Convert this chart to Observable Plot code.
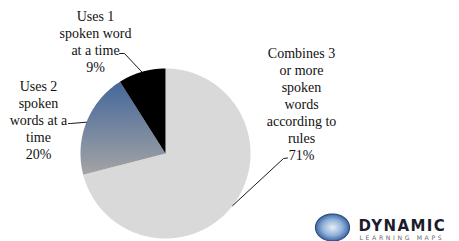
<!DOCTYPE html>
<html><head><meta charset="utf-8">
<script src="https://cdn.jsdelivr.net/npm/d3@7"></script>
<script src="https://cdn.jsdelivr.net/npm/@observablehq/plot@0.6"></script>
<style>html,body{margin:0;padding:0;background:#fff;overflow:hidden}</style>
</head><body><div id="chart"></div>
<script>
// ---- data ----
const categories = ["Combines 3 or more spoken words according to rules", "Uses 2 spoken words at a time", "Uses 1 spoken word at a time"];
const labelLines = [
  ["Combines 3", "or more", "spoken", "words", "according to", "rules"],
  ["Uses 2", "spoken", "words at a", "time"],
  ["Uses 1", "spoken word", "at a time"]
];
const percents = [71, 20, 9];
const sliceColors = ["#d9d9d9", "url(#blueGrad)", "#000000"];

// ---- layout ----
const W = 459, H = 241;
const cx = 165, cy = 153, R = 85;
const labelPos = [[301, 103], [38, 119], [95, 40.5]];
const labelElbows = [[[283, 158], [287, 157.5]], [[70, 123], [68, 123]], [[124, 53], [119, 53]]];

const arcs = d3.pie().sort(null).value(d => d)(percents);
const pt = (a, r) => ({x: cx + r * Math.sin(a), y: cy - r * Math.cos(a)});

const slices = arcs.map((a, i) => {
  const pts = [{x: cx, y: cy}];
  const n = Math.max(2, Math.ceil((a.endAngle - a.startAngle) / 0.01));
  for (let k = 0; k <= n; k++) pts.push(pt(a.startAngle + (a.endAngle - a.startAngle) * k / n, R));
  pts.push({x: cx, y: cy});
  return pts;
});

const leaders = arcs.flatMap((a, i) => {
  const m = (a.startAngle + a.endAngle) / 2;
  const e = pt(m, R);
  return [{i, x: e.x, y: e.y}, ...labelElbows[i].map(([x, y]) => ({i, x, y}))];
});

const labels = categories.map((c, i) => ({
  x: labelPos[i][0], y: labelPos[i][1],
  text: labelLines[i].join("\n") + "\n" + percents[i] + "%"
}));

// logo globe ellipse
const globe = d3.range(0, 2 * Math.PI + 0.05, 0.05).map(t => ({x: 332 + 17 * Math.cos(t), y: 227 + 13.5 * Math.sin(t)}));

const chart = Plot.plot({
  width: W, height: H,
  margin: 0,
  x: {domain: [0, W], range: [0, W], axis: null},
  y: {domain: [0, H], range: [0, H], axis: null},
  marks: [
    ...slices.map((s, i) => Plot.line(s, {x: "x", y: "y", fill: sliceColors[i], stroke: "none"})),
    Plot.line(leaders, {x: "x", y: "y", z: "i", stroke: "#000", strokeWidth: 0.9}),
    Plot.text(labels, {x: "x", y: "y", text: "text", fontFamily: "Liberation Serif", fontSize: 14, lineHeight: 1.21, textAnchor: "middle", lineAnchor: "middle", fill: "#111"}),
    Plot.line(globe, {x: "x", y: "y", fill: "url(#globeGrad)", stroke: "#2f4e82", strokeWidth: 1.2}),
    Plot.text([{x: 358, y: 225.5, t: "DYNAMIC"}], {x: "x", y: "y", text: "t", textAnchor: "start", fontFamily: "DejaVu Sans", fontWeight: "bold", fontSize: 15, fill: "#1b1b2b"}),
    Plot.text([{x: 359, y: 237.6, t: "LEARNING MAPS"}], {x: "x", y: "y", text: "t", textAnchor: "start", fontFamily: "DejaVu Sans", fontSize: 6.2, fill: "#6b6b6b"})
  ]
});

const svg = d3.select(chart);
const defs = svg.insert("defs", ":first-child");
const g = defs.append("linearGradient").attr("id", "blueGrad").attr("x1", 0).attr("y1", 0).attr("x2", 0).attr("y2", 1);
g.append("stop").attr("offset", "0%").attr("stop-color", "#44679b");
g.append("stop").attr("offset", "100%").attr("stop-color", "#a4a4a4");
const gg = defs.append("radialGradient").attr("id", "globeGrad");
gg.append("stop").attr("offset", "0%").attr("stop-color", "#e8eef7");
gg.append("stop").attr("offset", "60%").attr("stop-color", "#8fb0d8");
gg.append("stop").attr("offset", "100%").attr("stop-color", "#3e68a6");
svg.selectAll("text").each(function() {
  const t = this.textContent;
  if (t === "LEARNING MAPS") this.setAttribute("letter-spacing", "2.6");
  if (t === "DYNAMIC") this.setAttribute("letter-spacing", "1.4");
});

document.getElementById("chart").append(chart);
</script>
</body></html>
